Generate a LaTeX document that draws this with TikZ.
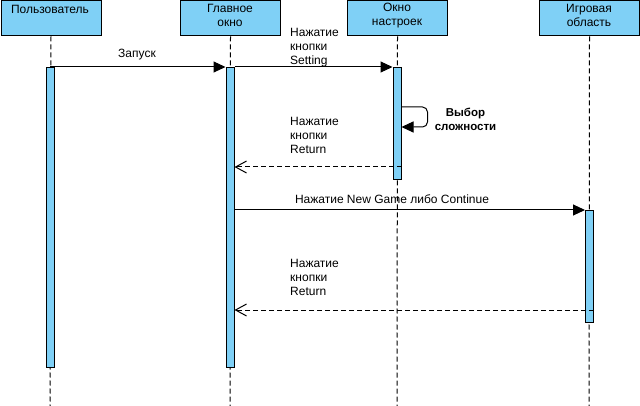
\documentclass[tikz,border=0pt]{standalone}
\usepackage{fontspec}
\setmainfont{Liberation Sans}
\usetikzlibrary{arrows.meta,calc}
\definecolor{hdrblue}{HTML}{7FD0F6}
\begin{document}
\begin{tikzpicture}[x=1pt,y=-1pt,
  every node/.style={font=\fontsize{12}{14}\selectfont, inner sep=0pt},
  head/.style={draw=black, fill=hdrblue, line width=1pt, minimum width=100pt, minimum height=35pt, anchor=north west},
  act/.style={draw=black, fill=hdrblue, line width=1pt, minimum width=8pt, anchor=north},
  life/.style={draw=black, line width=1pt, dash pattern=on 5pt off 3pt},
  msg/.style={draw=black, line width=1pt, -{Triangle[length=12pt,width=11pt]}},
  ret/.style={draw=black, line width=1pt, dash pattern=on 5pt off 3pt, -{Straight Barb[length=11pt,width=12pt]}},
  lbl/.style={align=left, anchor=west}
]
\useasboundingbox (0,0) rectangle (640,406);
% headers
\node[head] (uh) at (0.5,0.5) {};
\node[head] (gh) at (180,0.5) {};
\node[head] (sh) at (347,0.5) {};
\node[head] (ih) at (539,0.5) {};
\node (ut) at (50,9) {Пользователь};
\node[align=center] (gt) at (230,15.5) {Главное\\окно};
\node[align=center] (st) at (397,15.5) {Окно\\настроек};
\node[align=center] (it) at (589,15.5) {Игровая\\область};
% lifeline ends
\coordinate (ue) at (50,406);
\coordinate (ge) at (230,406);
\coordinate (se) at (397,406);
\coordinate (ie) at (589,406);
\draw[life] (uh.south) -- (ue);
\draw[life] (gh.south) -- (ge);
\draw[life] (sh.south) -- (se);
\draw[life] (ih.south) -- (ie);
% activations
\node[act, minimum height=300pt] (ua) at (50,67) {};
\node[act, minimum height=300pt] (ga) at (230,67) {};
\node[act, minimum height=112pt] (sa) at (397,67) {};
\node[act, minimum height=112pt] (ia) at (589.5,210) {};
% messages
\draw[msg] (ua.north) -- (ga.north west);
\node (l1) at (137,55) {Запуск};
\draw[msg] (ga.north east) -- (sa.north west);
\node[lbl] (l2) at (290,48) {Нажатие\\кнопки\\Setting};
\coordinate (s1) at ($(sa.north east)+(0,40)$);
\coordinate (s2) at ($(sa.north east)+(26,40)$);
\coordinate (s3) at ($(sa.north east)+(26,60)$);
\coordinate (s4) at ($(sa.north east)+(0,60)$);
\draw[msg, rounded corners=5pt] (s1) -- (s2) -- (s3) -- (s4);
\node[align=center, font=\fontsize{11.5}{14}\selectfont\bfseries] (l3) at (465.5,119) {Выбор\\сложности};
\coordinate (r1s) at ($(sa.north east)+(0,100)$);
\coordinate (r1e) at ($(ga.north east)+(0,100)$);
\draw[ret] (r1s) -- (r1e);
\node[lbl] (l4) at (290,135) {Нажатие\\кнопки\\Return};
\coordinate (n1) at ($(ga.north east)+(0,143)$);
\draw[msg] (n1) -- (ia.north west);
\node (l5) at (392,199) {Нажатие New Game либо Continue};
\coordinate (r2s) at ($(ia.north east)+(0,100)$);
\coordinate (r2e) at ($(ga.north east)+(0,243)$);
\draw[ret] (r2s) -- (r2e);
\node[lbl] (l6) at (290,277) {Нажатие\\кнопки\\Return};
\end{tikzpicture}
\end{document}
